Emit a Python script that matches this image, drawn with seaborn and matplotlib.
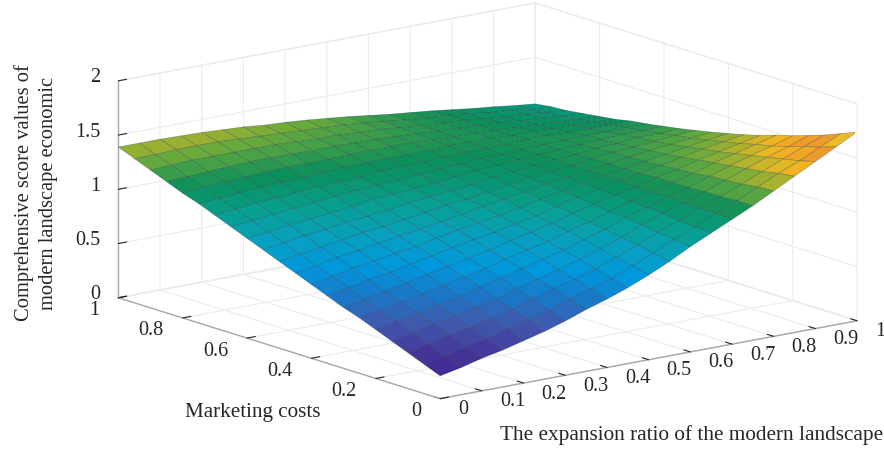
# Comprehensive score surface (marketing costs vs expansion ratio)

import numpy as np
import matplotlib
matplotlib.use('Agg')
import matplotlib.pyplot as plt
from mpl_toolkits.mplot3d import proj3d
import seaborn as sns

# Data
expansion_ratio = [0, .05, .1, .15, .2, .25, .3, .35, .4, .45, .5, .55, .6, .65, .7, .75, .8, .85, .9, .95, 1]
marketing_costs = [0, .05, .1, .15, .2, .25, .3, .35, .4, .45, .5, .55, .6, .65, .7, .75, .8, .85, .9, .95, 1]
score_rows = [
    [.21, .25, .30, .34, .39, .44, .50, .57, .63, .70, .78, .87, .97, 1.06, 1.15, 1.24, 1.34, 1.44, 1.54, 1.64, 1.74],
    [.27, .31, .36, .40, .45, .50, .55, .62, .68, .74, .82, .90, .99, 1.07, 1.16, 1.24, 1.33, 1.42, 1.50, 1.59, 1.68],
    [.33, .37, .42, .46, .50, .55, .61, .67, .72, .78, .85, .93, 1.01, 1.08, 1.16, 1.23, 1.31, 1.39, 1.47, 1.55, 1.62],
    [.39, .43, .48, .51, .56, .60, .66, .71, .76, .82, .88, .95, 1.03, 1.10, 1.16, 1.23, 1.30, 1.37, 1.44, 1.50, 1.57],
    [.45, .49, .53, .57, .61, .66, .71, .76, .81, .86, .92, .98, 1.05, 1.11, 1.17, 1.22, 1.29, 1.35, 1.41, 1.46, 1.52],
    [.51, .54, .59, .62, .67, .71, .75, .80, .85, .89, .95, 1.00, 1.06, 1.12, 1.17, 1.22, 1.27, 1.33, 1.38, 1.43, 1.48],
    [.56, .60, .64, .68, .72, .76, .80, .84, .89, .93, .98, 1.03, 1.08, 1.13, 1.17, 1.22, 1.26, 1.31, 1.35, 1.39, 1.43],
    [.62, .66, .70, .73, .77, .81, .85, .89, .92, .96, 1.00, 1.05, 1.10, 1.14, 1.18, 1.21, 1.25, 1.29, 1.33, 1.36, 1.39],
    [.68, .72, .76, .79, .82, .85, .89, .93, .96, .99, 1.03, 1.07, 1.11, 1.15, 1.18, 1.21, 1.24, 1.27, 1.30, 1.33, 1.355],
    [.74, .77, .81, .84, .87, .90, .93, .96, .99, 1.03, 1.06, 1.09, 1.13, 1.15, 1.18, 1.21, 1.23, 1.26, 1.28, 1.30, 1.32],
    [.80, .83, .86, .89, .92, .94, .97, 1.00, 1.03, 1.05, 1.08, 1.11, 1.14, 1.16, 1.18, 1.21, 1.23, 1.24, 1.26, 1.28, 1.29],
    [.86, .89, .92, .94, .97, .99, 1.01, 1.04, 1.06, 1.08, 1.10, 1.13, 1.15, 1.17, 1.19, 1.20, 1.22, 1.23, 1.25, 1.25, 1.26],
    [.92, .94, .97, .99, 1.01, 1.03, 1.06, 1.07, 1.09, 1.11, 1.13, 1.15, 1.16, 1.18, 1.19, 1.20, 1.21, 1.22, 1.23, 1.23, 1.235],
    [.98, 1.00, 1.02, 1.04, 1.06, 1.08, 1.10, 1.11, 1.12, 1.14, 1.15, 1.16, 1.18, 1.18, 1.19, 1.20, 1.20, 1.21, 1.21, 1.21, 1.21],
    [1.04, 1.06, 1.08, 1.09, 1.11, 1.12, 1.13, 1.14, 1.16, 1.17, 1.17, 1.18, 1.19, 1.19, 1.19, 1.20, 1.20, 1.19, 1.19, 1.19, 1.19],
    [1.10, 1.11, 1.13, 1.14, 1.15, 1.16, 1.17, 1.18, 1.19, 1.19, 1.19, 1.20, 1.20, 1.20, 1.20, 1.19, 1.19, 1.18, 1.18, 1.17, 1.16],
    [1.15, 1.17, 1.18, 1.19, 1.20, 1.21, 1.21, 1.21, 1.22, 1.22, 1.22, 1.22, 1.21, 1.20, 1.20, 1.19, 1.18, 1.17, 1.16, 1.15, 1.14],
    [1.21, 1.22, 1.23, 1.24, 1.25, 1.25, 1.25, 1.24, 1.25, 1.24, 1.24, 1.23, 1.22, 1.21, 1.20, 1.19, 1.18, 1.16, 1.15, 1.13, 1.12],
    [1.27, 1.28, 1.29, 1.29, 1.29, 1.29, 1.29, 1.28, 1.27, 1.27, 1.26, 1.25, 1.23, 1.21, 1.20, 1.19, 1.17, 1.15, 1.14, 1.12, 1.10],
    [1.33, 1.33, 1.34, 1.34, 1.34, 1.33, 1.32, 1.31, 1.30, 1.29, 1.28, 1.26, 1.24, 1.22, 1.20, 1.19, 1.17, 1.14, 1.13, 1.10, 1.09],
    [1.39, 1.39, 1.39, 1.385, 1.38, 1.37, 1.36, 1.34, 1.33, 1.315, 1.295, 1.275, 1.25, 1.225, 1.205, 1.185, 1.16, 1.135, 1.115, 1.09, 1.07],
]
x_ticks = [0, .1, .2, .3, .4, .5, .6, .7, .8, .9, 1]
x_tick_labels = ['0', '0.1', '0.2', '0.3', '0.4', '0.5', '0.6', '0.7', '0.8', '0.9', '1']
y_ticks = [0, .2, .4, .6, .8, 1]
y_tick_labels = ['0', '0.2', '0.4', '0.6', '0.8', '1']
z_ticks = [0, .5, 1, 1.5, 2]
z_tick_labels = ['0', '0.5', '1', '1.5', '2']
surface_colors = ['#41248f', '#45389a', '#3f5aae', '#1a78c8', '#0098dc', '#08a0c0',
                  '#08a090', '#0b8f5a', '#6eab3a', '#f0b820', '#ee9330', '#ede51a']

sns.set_theme(style='white')
plt.rcParams['font.family'] = ['Liberation Serif', 'DejaVu Serif']
plt.rcParams['text.color'] = '#262626'

fig = plt.figure(figsize=(8.84, 4.49), dpi=100)
# square axes, sized so the box corners land where they are in the picture
ax = fig.add_axes([100 / 884, (449 - 588.5) / 449, 755 / 884, 755 / 449], projection='3d')
ax.set_proj_type('ortho')
ax.set_box_aspect((1, 1, 0.4245))
ax.view_init(elev=14, azim=-127.67)

X, Y = np.meshgrid(expansion_ratio, marketing_costs)
Z = np.array(score_rows)
cmap = sns.blend_palette(surface_colors, n_colors=256, as_cmap=True)
ax.plot_surface(X, Y, Z, rstride=1, cstride=1, cmap=cmap, vmin=.2, vmax=1.74, shade=False,
                edgecolor=(0.05, 0.1, 0.2, 0.3), linewidth=0.5, antialiased=True)

ax.set_xlim(0, 1, view_margin=0)
ax.set_ylim(0, 1, view_margin=0)
ax.set_zlim(0, 2, view_margin=0)
ax.set_xticks(x_ticks, [''] * len(x_ticks))
ax.set_yticks(y_ticks, [''] * len(y_ticks))
ax.set_zticks(z_ticks, [''] * len(z_ticks))

for axis in [ax.xaxis, ax.yaxis, ax.zaxis]:
    axis.set_pane_color((1, 1, 1, 1))
    axis.pane.set_edgecolor('#e8e8e8')
    axis.line.set_color('#a8a8a8')
    axis.line.set_linewidth(1.0)
    axis._axinfo['grid'].update(color='#ececec', linewidth=0.8)
    axis._axinfo['tick'].update(color='#a8a8a8', inward_factor=0, outward_factor=0.25, linewidth={True: 0.8, False: 0.8})
ax.grid(True)

# Axis3D keeps resetting its label transforms, so tick labels are annotated at the projected tick spot
def tick_label(text, x, y, z, dx, dy, ha):
    px, py, _ = proj3d.proj_transform(x, y, z, ax.get_proj())
    ax.annotate(text, (px, py), xytext=(dx, dy), textcoords='offset pixels', ha=ha, va='center',
                fontsize=14.6, annotation_clip=False)

for val, text in zip(x_ticks, x_tick_labels):
    tick_label(text, val, 0, 0, 18, -11, 'left')
for val, text in zip(y_ticks, y_tick_labels):
    tick_label(text, 0, val, 0, -19, -13, 'right')
for val, text in zip(z_ticks, z_tick_labels):
    tick_label(text, 0, 1, val, -18, 3, 'right')

fig.text(36 / 884, 1 - 193 / 449, 'Comprehensive score values of\nmodern landscape economic', rotation=90,
         ha='center', va='center', fontsize=14.8, linespacing=1.4)
fig.text(253 / 884, 1 - 412 / 449, 'Marketing costs', ha='center', va='center', fontsize=15.2)
fig.text(692 / 884, 1 - 435 / 449, 'The expansion ratio of the modern landscape', ha='center', va='center', fontsize=15.3)

fig.savefig('out.png', dpi=100)
